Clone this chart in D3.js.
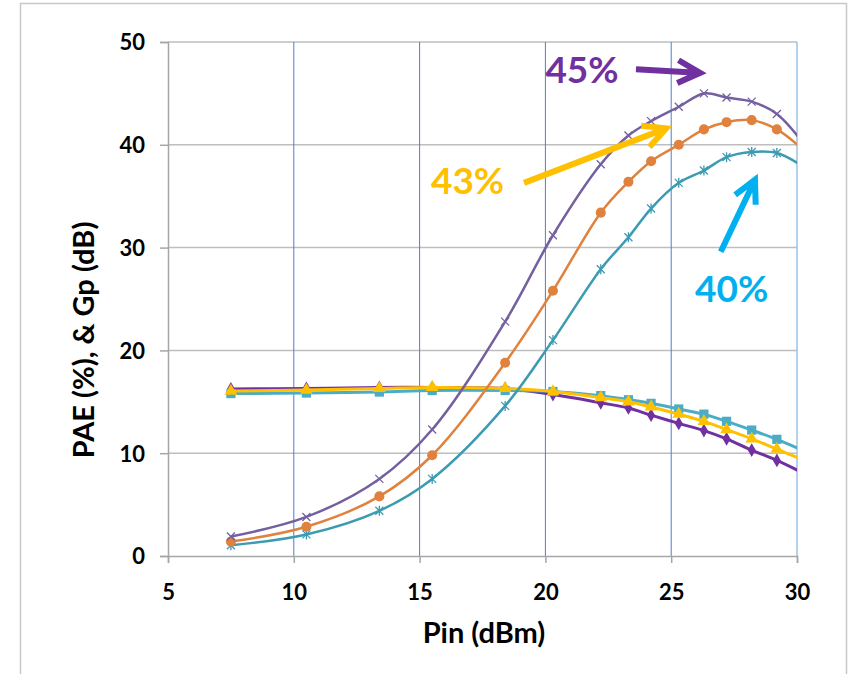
<!DOCTYPE html>
<html>
<head>
<meta charset="utf-8">
<script src="https://cdn.jsdelivr.net/npm/d3@7"></script>
<style>
    body { margin: 0; background: #fff; }
    text { font-family: Lato, "Open Sans", sans-serif; font-weight: bold; }
</style>
</head>
<body>
<div id="chart"></div>
<script>
// Pin (dBm) sample points, last one sits just past the axis end and is clipped
let pin = [7.5, 10.5, 13.4, 15.5, 18.4, 20.3, 22.2, 23.3, 24.2, 25.3, 26.3, 27.2, 28.2, 29.2, 30.3];

// PAE (%)
let pae45 = [1.9, 3.8, 7.5, 12.3, 22.8, 31.2, 38.1, 40.9, 42.3, 43.7, 45.0, 44.6, 44.2, 43.0, 40.0];
let pae43 = [1.4, 2.85, 5.8, 9.8, 18.8, 25.8, 33.4, 36.4, 38.4, 40.0, 41.5, 42.2, 42.4, 41.5, 39.4];
let pae40 = [1.05, 2.1, 4.4, 7.5, 14.6, 21.0, 27.9, 31.0, 33.8, 36.3, 37.5, 38.8, 39.3, 39.2, 37.8];

// Gp (dB)
let gp45 = [16.25, 16.3, 16.4, 16.4, 16.3, 15.7, 14.9, 14.4, 13.7, 12.9, 12.2, 11.4, 10.3, 9.3, 8.0];
let gp43 = [16.05, 16.15, 16.3, 16.4, 16.3, 16.0, 15.4, 15.0, 14.5, 13.8, 13.1, 12.3, 11.4, 10.4, 9.3];
let gp40 = [15.8, 15.85, 15.95, 16.1, 16.1, 16.0, 15.6, 15.2, 14.85, 14.3, 13.8, 13.1, 12.25, 11.35, 10.2];

let xTicks = [5, 10, 15, 20, 25, 30];
let yTicks = [0, 10, 20, 30, 40, 50];

// annotation labels and arrows (data units)
let notes = [
    {label: "45%", color: "#7030A0", at: [20.0, 46.0], from: [23.6, 47.35], to: [26.15, 47.0]},
    {label: "43%", color: "#FFC000", at: [15.45, 35.2], from: [19.15, 36.3], to: [24.8, 41.6]},
    {label: "40%", color: "#00B0F0", at: [25.95, 24.7], from: [26.97, 29.6], to: [28.33, 36.6]}
];

let margin = {top: 42, right: 55, bottom: 118, left: 168};
let W = 852, H = 674;
let width = W - margin.left - margin.right;
let height = H - margin.top - margin.bottom;

let svg = d3.select("#chart").append("svg")
    .attr("width", W)
    .attr("height", H);

// outer chart border
svg.append("rect")
    .attr("x", 20.5).attr("y", 3.5)
    .attr("width", 826).attr("height", 700)
    .attr("fill", "none")
    .attr("stroke", "#C8C8C8")
    .attr("stroke-width", 1.5);

let g = svg.append("g")
    .attr("transform", `translate(${margin.left}, ${margin.top})`);

let x = d3.scaleLinear().domain([5, 30]).range([0, width]);
let y = d3.scaleLinear().domain([0, 50]).range([height, 0]);

g.append("clipPath").attr("id", "plotClip")
    .append("rect").attr("width", width).attr("height", height);

// horizontal grid
g.selectAll(".hgrid")
    .data(yTicks.filter(d => d > 0))
    .enter().append("line")
    .attr("x1", 0).attr("x2", width)
    .attr("y1", d => y(d)).attr("y2", d => y(d))
    .attr("stroke", "#BEBEBE")
    .attr("stroke-width", 1.5);

// vertical grid (blue)
g.selectAll(".vgrid")
    .data(xTicks.filter(d => d > 5))
    .enter().append("line")
    .attr("x1", d => x(d)).attr("x2", d => x(d))
    .attr("y1", 0).attr("y2", height)
    .attr("stroke", d => d === 30 ? "#9DC3E6" : "#4A7FD0")
    .attr("stroke-width", d => d === 30 ? 1.5 : 1);

// axes
let xAxis = g.append("g")
    .attr("transform", `translate(0, ${height})`)
    .call(d3.axisBottom(x).tickValues(xTicks).tickSize(7).tickPadding(16));
let yAxis = g.append("g")
    .call(d3.axisLeft(y).tickValues(yTicks).tickSize(8).tickPadding(15));

[xAxis, yAxis].forEach(ax => {
    ax.select(".domain").attr("stroke", "#A6A6A6").attr("stroke-width", 1.5);
    ax.selectAll(".tick line").attr("stroke", "#A6A6A6").attr("stroke-width", 1.5);
    ax.selectAll(".tick text")
        .attr("fill", "#000")
        .attr("font-size", "22px")
        .attr("font-family", "Lato, sans-serif")
        .attr("font-weight", "bold");
});
xAxis.selectAll(".tick text").attr("dy", "0.95em");
yAxis.selectAll(".tick text").attr("dy", "0.36em");

// axis titles
svg.append("text")
    .attr("x", 484).attr("y", 643)
    .attr("text-anchor", "middle")
    .attr("font-size", "29px")
    .text("Pin (dBm)");

svg.append("text")
    .attr("transform", "translate(94, 340) rotate(-90)")
    .attr("text-anchor", "middle")
    .attr("font-size", "29px")
    .text("PAE (%), & Gp (dB)");

// series
let sym = d3.symbol();
let markers = {
    cross: s => `M${-s},${-s}L${s},${s}M${-s},${s}L${s},${-s}`,
    star: s => `M${-s},${-s}L${s},${s}M${-s},${s}L${s},${-s}M0,${-s * 1.25}L0,${s * 1.25}`,
    circle: s => sym.type(d3.symbolCircle).size(s)(),
    diamond: s => sym.type(d3.symbolDiamond).size(s)(),
    triangle: s => sym.type(d3.symbolTriangle).size(s)(),
    square: s => sym.type(d3.symbolSquare).size(s)()
};

let series = [
    {values: gp45, color: "#7030A0", lw: 3, marker: "diamond", ms: 55, filled: true},
    {values: gp40, color: "#4BACC6", lw: 3, marker: "square", ms: 85, filled: true},
    {values: gp43, color: "#FFC000", lw: 3, marker: "triangle", ms: 70, filled: true},
    {values: pae40, color: "#3C9BB2", lw: 2.5, marker: "star", ms: 4, filled: false},
    {values: pae43, color: "#E0823D", lw: 2.5, marker: "circle", ms: 80, filled: true},
    {values: pae45, color: "#7460A0", lw: 2.5, marker: "cross", ms: 4, filled: false}
];

let line = d3.line()
    .x(d => x(d[0]))
    .y(d => y(d[1]))
    .curve(d3.curveCatmullRom.alpha(0.5));

let plot = g.append("g").attr("clip-path", "url(#plotClip)");

series.forEach(s => {
    let pts = pin.map((p, i) => [p, s.values[i]]);
    plot.append("path")
        .datum(pts)
        .attr("fill", "none")
        .attr("stroke", s.color)
        .attr("stroke-width", s.lw)
        .attr("d", line);

    plot.selectAll(null)
        .data(pts)
        .enter().append("path")
        .attr("transform", d => `translate(${x(d[0])}, ${y(d[1])})`)
        .attr("d", markers[s.marker](s.ms))
        .attr("fill", s.filled ? s.color : "none")
        .attr("stroke", s.color)
        .attr("stroke-width", s.filled ? 0 : 1.3);
});

// annotations
notes.forEach(n => {
    g.append("text")
        .attr("x", x(n.at[0])).attr("y", y(n.at[1]))
        .attr("fill", n.color)
        .attr("font-size", "37px")
        .text(n.label);

    let x0 = x(n.from[0]), y0 = y(n.from[1]);
    let x1 = x(n.to[0]), y1 = y(n.to[1]);
    let ang = Math.atan2(y1 - y0, x1 - x0);
    let len = 25, spread = 27 * Math.PI / 180;
    let a1 = [x1 - len * Math.cos(ang - spread), y1 - len * Math.sin(ang - spread)];
    let a2 = [x1 - len * Math.cos(ang + spread), y1 - len * Math.sin(ang + spread)];

    g.append("path")
        .attr("d", `M${x0},${y0}L${x1 - 3 * Math.cos(ang)},${y1 - 3 * Math.sin(ang)}M${a1[0]},${a1[1]}L${x1},${y1}L${a2[0]},${a2[1]}`)
        .attr("fill", "none")
        .attr("stroke", n.color)
        .attr("stroke-width", 6)
        .attr("stroke-linejoin", "miter");
});
</script>
</body>
</html>
